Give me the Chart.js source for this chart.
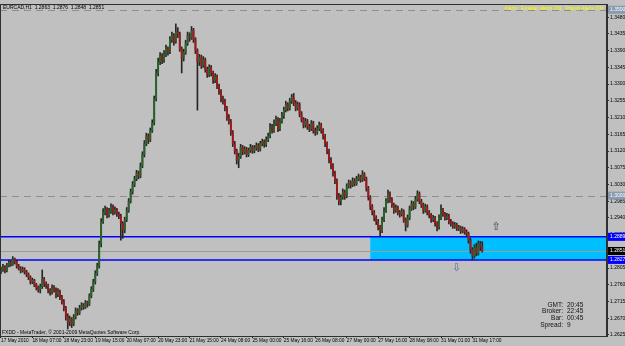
<!DOCTYPE html>
<html>
<head>
<meta charset="utf-8">
<script src="https://cdn.jsdelivr.net/npm/chart.js@4.4.1/dist/chart.umd.min.js"></script>
<style>
html, body { margin: 0; padding: 0; background: #c0c0c0; }
#wrap { width: 625px; height: 346px; }
</style>
</head>
<body>
<div id="wrap"><canvas id="graficEurCad" width="625" height="346"></canvas></div>
<script>
// EURCAD H1, 17 May 2010 15:00 -> 31 May 2010 22:00
const opens = [
  1.2795,1.2800,1.2808,1.2798,1.2812,1.2820,1.2815,1.2828,1.2822,1.2810,1.2805,1.2798,1.2802,1.2795,1.2788,
  1.2780,1.2768,1.2772,1.2760,1.2752,1.2748,1.2755,1.2775,1.2762,1.2758,1.2745,1.2740,1.2752,1.2748,1.2735,
  1.2742,1.2728,1.2715,1.2698,1.2675,1.2660,1.2668,1.2655,1.2672,1.2690,1.2685,1.2698,1.2705,1.2700,1.2712,
  1.2708,1.2730,1.2748,1.2768,1.2790,1.2810,1.2870,1.2930,1.2955,1.2962,1.2948,1.2958,1.2970,1.2955,1.2962,
  1.2950,1.2945,1.2925,1.2908,1.2935,1.2960,1.2985,1.3010,1.3030,1.3045,1.3060,1.3052,1.3080,1.3110,1.3140,
  1.3160,1.3150,1.3175,1.3195,1.3260,1.3330,1.3360,1.3375,1.3365,1.3380,1.3395,1.3388,1.3420,1.3430,1.3415,
  1.3440,1.3435,1.3395,1.3370,1.3385,1.3410,1.3430,1.3425,1.3445,1.3420,1.3390,1.3360,1.3372,1.3350,1.3365,
  1.3340,1.3325,1.3345,1.3330,1.3310,1.3320,1.3295,1.3280,1.3260,1.3255,1.3235,1.3210,1.3200,1.3170,1.3140,
  1.3120,1.3095,1.3105,1.3130,1.3118,1.3125,1.3110,1.3122,1.3130,1.3120,1.3128,1.3135,1.3125,1.3140,1.3145,
  1.3138,1.3150,1.3160,1.3185,1.3175,1.3195,1.3205,1.3180,1.3200,1.3215,1.3230,1.3245,1.3235,1.3255,1.3265,
  1.3250,1.3235,1.3245,1.3220,1.3205,1.3190,1.3200,1.3185,1.3180,1.3195,1.3175,1.3170,1.3180,1.3190,1.3175,
  1.3160,1.3140,1.3120,1.3095,1.3080,1.3060,1.3040,1.3000,1.2985,1.2995,1.3010,1.2998,1.3025,1.3035,1.3028,
  1.3040,1.3032,1.3045,1.3050,1.3042,1.3058,1.3045,1.3020,1.2995,1.2970,1.2955,1.2940,1.2930,1.2915,1.2905,
  1.2935,1.2960,1.2985,1.3005,1.2990,1.2975,1.2960,1.2968,1.2955,1.2950,1.2958,1.2935,1.2920,1.2940,1.2965,
  1.2978,1.2970,1.2990,1.3005,1.2985,1.2975,1.2960,1.2970,1.2955,1.2948,1.2935,1.2940,1.2925,1.2915,1.2940,
  1.2960,1.2950,1.2940,1.2945,1.2930,1.2925,1.2918,1.2922,1.2912,1.2915,1.2905,1.2910,1.2902,1.2898,1.2880,
  1.2855,1.2838,1.2860,1.2845,1.2870,1.2863
];
const highs = [
  1.2808,1.2815,1.2812,1.2818,1.2826,1.2825,1.2836,1.2832,1.2826,1.2815,1.2809,1.2808,1.2806,1.2799,1.2792,
  1.2784,1.2778,1.2775,1.2764,1.2757,1.2762,1.2800,1.2780,1.2768,1.2762,1.2750,1.2760,1.2758,1.2752,1.2750,
  1.2746,1.2732,1.2720,1.2702,1.2682,1.2676,1.2672,1.2680,1.2698,1.2696,1.2705,1.2712,1.2710,1.2718,1.2716,
  1.2736,1.2755,1.2775,1.2798,1.2818,1.2878,1.2938,1.2965,1.2972,1.2968,1.2966,1.2978,1.2975,1.2970,1.2966,
  1.2956,1.2950,1.2930,1.2942,1.2968,1.2992,1.3018,1.3038,1.3052,1.3068,1.3066,1.3088,1.3118,1.3148,1.3168,
  1.3166,1.3182,1.3204,1.3268,1.3340,1.3370,1.3385,1.3382,1.3390,1.3405,1.3400,1.3428,1.3440,1.3436,1.3462,
  1.3452,1.3440,1.3400,1.3394,1.3418,1.3440,1.3438,1.3455,1.3450,1.3425,1.3395,1.3380,1.3378,1.3374,1.3370,
  1.3346,1.3352,1.3350,1.3335,1.3328,1.3325,1.3300,1.3285,1.3268,1.3260,1.3240,1.3218,1.3205,1.3175,1.3146,
  1.3125,1.3114,1.3138,1.3135,1.3132,1.3130,1.3128,1.3138,1.3135,1.3135,1.3142,1.3140,1.3146,1.3152,1.3150,
  1.3158,1.3168,1.3194,1.3192,1.3204,1.3214,1.3210,1.3208,1.3224,1.3238,1.3254,1.3250,1.3262,1.3272,1.3275,
  1.3256,1.3252,1.3250,1.3226,1.3210,1.3208,1.3205,1.3192,1.3202,1.3200,1.3182,1.3188,1.3198,1.3195,1.3180,
  1.3165,1.3145,1.3125,1.3102,1.3086,1.3066,1.3045,1.3006,1.3002,1.3018,1.3015,1.3032,1.3042,1.3040,1.3048,
  1.3046,1.3052,1.3058,1.3055,1.3067,1.3062,1.3050,1.3025,1.3000,1.2976,1.2960,1.2946,1.2936,1.2920,1.2942,
  1.2968,1.2992,1.3015,1.3010,1.2995,1.2980,1.2975,1.2972,1.2960,1.2965,1.2962,1.2940,1.2948,1.2972,1.2986,
  1.2984,1.2998,1.3013,1.3010,1.2990,1.2980,1.2977,1.2975,1.2960,1.2952,1.2947,1.2944,1.2930,1.2948,1.2975,
  1.2966,1.2955,1.2952,1.2950,1.2936,1.2930,1.2928,1.2926,1.2920,1.2918,1.2916,1.2914,1.2908,1.2902,1.2885,
  1.2860,1.2868,1.2872,1.2878,1.2877,1.2876
];
const lows = [
  1.2790,1.2796,1.2792,1.2795,1.2808,1.2810,1.2812,1.2816,1.2805,1.2800,1.2792,1.2794,1.2789,1.2782,1.2774,
  1.2762,1.2763,1.2755,1.2746,1.2740,1.2738,1.2750,1.2755,1.2750,1.2738,1.2732,1.2735,1.2740,1.2725,1.2728,
  1.2720,1.2708,1.2690,1.2665,1.2641,1.2650,1.2645,1.2650,1.2668,1.2678,1.2680,1.2692,1.2694,1.2696,1.2700,
  1.2704,1.2725,1.2742,1.2762,1.2785,1.2805,1.2862,1.2925,1.2948,1.2940,1.2942,1.2952,1.2948,1.2950,1.2944,
  1.2938,1.2880,1.2885,1.2900,1.2930,1.2955,1.2980,1.3004,1.3024,1.3040,1.3045,1.3048,1.3075,1.3104,1.3134,
  1.3140,1.3145,1.3170,1.3190,1.3255,1.3322,1.3352,1.3355,1.3358,1.3374,1.3378,1.3382,1.3412,1.3405,1.3410,
  1.3425,1.3388,1.3330,1.3362,1.3380,1.3404,1.3415,1.3420,1.3412,1.3382,1.3230,1.3350,1.3342,1.3345,1.3332,
  1.3318,1.3320,1.3322,1.3302,1.3304,1.3288,1.3272,1.3252,1.3246,1.3228,1.3202,1.3192,1.3162,1.3132,1.3112,
  1.3085,1.3075,1.3100,1.3110,1.3112,1.3104,1.3105,1.3116,1.3114,1.3115,1.3122,1.3118,1.3120,1.3134,1.3130,
  1.3132,1.3145,1.3155,1.3168,1.3170,1.3188,1.3172,1.3175,1.3195,1.3208,1.3225,1.3228,1.3230,1.3248,1.3242,
  1.3228,1.3230,1.3212,1.3198,1.3182,1.3184,1.3178,1.3172,1.3175,1.3168,1.3162,1.3165,1.3175,1.3168,1.3152,
  1.3132,1.3112,1.3088,1.3072,1.3052,1.3032,1.2990,1.2975,1.2975,1.2990,1.2990,1.2994,1.3020,1.3020,1.3024,
  1.3026,1.3028,1.3040,1.3036,1.3038,1.3040,1.3012,1.2988,1.2962,1.2948,1.2932,1.2922,1.2908,1.2890,1.2900,
  1.2930,1.2955,1.2980,1.2982,1.2968,1.2952,1.2955,1.2948,1.2942,1.2945,1.2928,1.2905,1.2915,1.2935,1.2960,
  1.2962,1.2965,1.2985,1.2978,1.2968,1.2952,1.2955,1.2948,1.2940,1.2928,1.2930,1.2918,1.2905,1.2910,1.2935,
  1.2944,1.2934,1.2935,1.2924,1.2918,1.2912,1.2912,1.2906,1.2906,1.2898,1.2900,1.2896,1.2890,1.2872,1.2845,
  1.2827,1.2832,1.2838,1.2840,1.2852,1.2848
];
const closes = [
  1.2800,1.2808,1.2798,1.2812,1.2820,1.2815,1.2828,1.2822,1.2810,1.2805,1.2798,1.2802,1.2795,1.2788,1.2780,
  1.2768,1.2772,1.2760,1.2752,1.2748,1.2755,1.2775,1.2762,1.2758,1.2745,1.2740,1.2752,1.2748,1.2735,1.2742,
  1.2728,1.2715,1.2698,1.2675,1.2660,1.2668,1.2655,1.2672,1.2690,1.2685,1.2698,1.2705,1.2700,1.2712,1.2708,
  1.2730,1.2748,1.2768,1.2790,1.2810,1.2870,1.2930,1.2955,1.2962,1.2948,1.2958,1.2970,1.2955,1.2962,1.2950,
  1.2945,1.2925,1.2908,1.2935,1.2960,1.2985,1.3010,1.3030,1.3045,1.3060,1.3052,1.3080,1.3110,1.3140,1.3160,
  1.3150,1.3175,1.3195,1.3260,1.3330,1.3360,1.3375,1.3365,1.3380,1.3395,1.3388,1.3420,1.3430,1.3415,1.3440,
  1.3435,1.3395,1.3370,1.3385,1.3410,1.3430,1.3425,1.3445,1.3420,1.3390,1.3360,1.3372,1.3350,1.3365,1.3340,
  1.3325,1.3345,1.3330,1.3310,1.3320,1.3295,1.3280,1.3260,1.3255,1.3235,1.3210,1.3200,1.3170,1.3140,1.3120,
  1.3095,1.3105,1.3130,1.3118,1.3125,1.3110,1.3122,1.3130,1.3120,1.3128,1.3135,1.3125,1.3140,1.3145,1.3138,
  1.3150,1.3160,1.3185,1.3175,1.3195,1.3205,1.3180,1.3200,1.3215,1.3230,1.3245,1.3235,1.3255,1.3265,1.3250,
  1.3235,1.3245,1.3220,1.3205,1.3190,1.3200,1.3185,1.3180,1.3195,1.3175,1.3170,1.3180,1.3190,1.3175,1.3160,
  1.3140,1.3120,1.3095,1.3080,1.3060,1.3040,1.3000,1.2985,1.2995,1.3010,1.2998,1.3025,1.3035,1.3028,1.3040,
  1.3032,1.3045,1.3050,1.3042,1.3058,1.3045,1.3020,1.2995,1.2970,1.2955,1.2940,1.2930,1.2915,1.2905,1.2935,
  1.2960,1.2985,1.3005,1.2990,1.2975,1.2960,1.2968,1.2955,1.2950,1.2958,1.2935,1.2920,1.2940,1.2965,1.2978,
  1.2970,1.2990,1.3005,1.2985,1.2975,1.2960,1.2970,1.2955,1.2948,1.2935,1.2940,1.2925,1.2915,1.2940,1.2960,
  1.2950,1.2940,1.2945,1.2930,1.2925,1.2918,1.2922,1.2912,1.2915,1.2905,1.2910,1.2902,1.2898,1.2880,1.2855,
  1.2838,1.2860,1.2845,1.2870,1.2863,1.2851
];

// one label every 16 bars
const timeLabels = ['17 May 2010', '18 May 07:00', '18 May 23:00', '19 May 15:00', '20 May 07:00',
  '20 May 23:00', '21 May 15:00', '24 May 08:00', '25 May 00:00', '25 May 16:00', '26 May 08:00',
  '27 May 00:00', '27 May 16:00', '28 May 08:00', '31 May 01:00', '31 May 17:00'];
const yTicks = [1.2625, 1.2670, 1.2715, 1.2760, 1.2805, 1.2850, 1.2895, 1.2940, 1.2985, 1.3030,
  1.3075, 1.3120, 1.3165, 1.3210, 1.3255, 1.3300, 1.3345, 1.3390, 1.3435, 1.3480];

const roundLevels = [1.3500, 1.3000];
const zoneTop = 1.2889;
const zoneBottom = 1.2827;
const zoneStartBar = 188;
const bidPrice = 1.2851;
const markerBars = [252, 232];
const markerPrices = [1.2914, 1.2804];
const totalSlots = 309;   // bars + chart shift on the right

const etiquetes = [];
for (let i = 0; i < totalSlots; i++) etiquetes.push(String(i));

const FONT = "'Liberation Sans', Arial, sans-serif";

const decoracio = {
    id: 'decoracio',
    beforeDraw(chart) {
        const c = chart.ctx;
        c.save();
        c.fillStyle = '#c0c0c0';
        c.fillRect(0, 0, chart.width, chart.height);
        c.restore();
    },
    beforeDatasetsDraw(chart) {
        const c = chart.ctx;
        const a = chart.chartArea;
        const x = chart.scales.x;
        const y = chart.scales.y;
        c.save();
        c.beginPath();
        c.rect(a.left, a.top, a.right - a.left, a.bottom - a.top);
        c.clip();

        // zona
        const zx = x.getPixelForValue(zoneStartBar);
        const zy1 = y.getPixelForValue(zoneTop);
        const zy2 = y.getPixelForValue(zoneBottom);
        c.fillStyle = '#00bfff';
        c.fillRect(zx, zy1, a.right - zx, zy2 - zy1);

        // nivells rodons
        c.strokeStyle = '#8e8e8e';
        c.lineWidth = 1;
        c.setLineDash([7, 5]);
        roundLevels.forEach(v => {
            const py = Math.round(y.getPixelForValue(v)) + 0.5;
            c.beginPath(); c.moveTo(a.left, py); c.lineTo(a.right, py); c.stroke();
        });
        c.setLineDash([]);

        // bid
        c.strokeStyle = '#9c9c9c';
        const by = Math.round(y.getPixelForValue(bidPrice)) + 0.5;
        c.beginPath(); c.moveTo(a.left, by); c.lineTo(a.right, by); c.stroke();

        // linies blaves
        c.strokeStyle = '#0000ff';
        c.lineWidth = 1.5;
        [zoneTop, zoneBottom].forEach(v => {
            const py = y.getPixelForValue(v);
            c.beginPath(); c.moveTo(a.left, py); c.lineTo(a.right, py); c.stroke();
        });
        c.restore();
    },
    afterDraw(chart) {
        const c = chart.ctx;
        const a = chart.chartArea;
        const x = chart.scales.x;
        const y = chart.scales.y;
        c.save();

        // marc
        c.strokeStyle = '#303030';
        c.lineWidth = 1;
        c.strokeRect(a.left + 0.5, a.top + 0.5, a.right - a.left - 1, a.bottom - a.top);

        // textos
        c.textBaseline = 'middle';
        c.font = '5px ' + FONT;
        c.fillStyle = '#000';
        c.textAlign = 'left';
        c.fillText('EURCAD,H1  1.2863  1.2876  1.2848  1.2851', 3, a.top + 4);
        c.fillText('FXDD - MetaTrader, \u00a9 2001-2009 MetaQuotes Software Corp.', 2, a.bottom - 3);
        c.fillStyle = '#ffff00';
        c.textAlign = 'right';
        c.fillText('Alerts:  Emailer Alerts ON,  Popup Alerts ON', 603, a.top + 5);

        // panell info
        c.font = '6.5px ' + FONT;
        c.fillStyle = '#111';
        const files = [['GMT:', '20:45'], ['Broker:', '22:45'], ['Bar:', '00:45'], ['Spread:', '9']];
        files.forEach((f, i) => {
            const py = 305 + i * 6.6;
            c.textAlign = 'right';
            c.fillText(f[0], 563, py);
            c.textAlign = 'left';
            c.fillText(f[1], 567, py);
        });

        // fletxes
        c.font = '11px DejaVu Sans';
        c.textAlign = 'center';
        c.fillStyle = '#404040';
        c.fillText('\u21e7', x.getPixelForValue(markerBars[0]), y.getPixelForValue(markerPrices[0]));
        c.fillStyle = '#5a6ea0';
        c.fillText('\u21e9', x.getPixelForValue(markerBars[1]), y.getPixelForValue(markerPrices[1]));

        // etiquetes de preu
        const etiq = [
            [roundLevels[0], '#8a9bb0', '#ffffff'],
            [roundLevels[1], '#8a9bb0', '#ffffff'],
            [zoneTop, '#0000ff', '#ffffff'],
            [bidPrice, '#000000', '#ffffff'],
            [zoneBottom, '#0000ff', '#ffffff']
        ];
        c.font = '5px ' + FONT;
        c.textAlign = 'left';
        etiq.forEach(e => {
            const py = y.getPixelForValue(e[0]);
            c.fillStyle = e[1];
            c.fillRect(a.right + 1, py - 4, 17, 8);
            c.fillStyle = e[2];
            c.fillText(e[0].toFixed(4), a.right + 3, py);
        });
        c.restore();
    }
};

const ctx = document.getElementById('graficEurCad').getContext('2d');
const colorsCos = opens.map((o, i) => closes[i] >= o ? '#2a632a' : '#a01818');

new Chart(ctx, {
    type: 'bar',
    data: {
        labels: etiquetes,
        datasets: [
            {
                label: 'cos',
                data: opens.map((o, i) => [o, closes[i]]),
                backgroundColor: colorsCos,
                barThickness: 1.2,
                grouped: false,
                borderWidth: 0,
                order: 1
            },
            {
                label: 'ombra',
                data: lows.map((l, i) => [l, highs[i]]),
                backgroundColor: '#262626',
                barThickness: 1,
                grouped: false,
                borderWidth: 0,
                order: 2
            }
        ]
    },
    options: {
        responsive: false,
        animation: false,
        devicePixelRatio: 1,
        layout: { padding: { top: 2, left: 0, right: 0, bottom: 0 } },
        plugins: {
            legend: { display: false },
            tooltip: { enabled: false }
        },
        scales: {
            x: {
                type: 'category',
                offset: true,
                afterFit: s => { s.height = 10; },
                grid: {
                    drawOnChartArea: false,
                    offset: false,
                    tickLength: 2,
                    color: c => (c.index % 16 === 0 && c.index / 16 < timeLabels.length) ? '#202020' : 'rgba(0,0,0,0)'
                },
                border: { display: true, color: '#303030' },
                ticks: {
                    autoSkip: false,
                    maxRotation: 0,
                    minRotation: 0,
                    align: 'start',
                    padding: 0,
                    color: '#000',
                    font: { family: FONT, size: 4.8 },
                    callback: (v, i) => (i % 16 === 0 && i / 16 < timeLabels.length) ? timeLabels[i / 16] : ''
                }
            },
            y: {
                position: 'right',
                min: 1.26223,
                max: 1.35155,
                afterBuildTicks: s => { s.ticks = yTicks.map(v => ({ value: v })); },
                afterFit: s => { s.width = 18; },
                grid: { drawOnChartArea: false, tickLength: 2, color: '#303030' },
                border: { display: true, color: '#303030' },
                ticks: {
                    padding: 1,
                    color: '#000',
                    font: { family: FONT, size: 5 },
                    callback: v => v.toFixed(4)
                }
            }
        }
    },
    plugins: [decoracio]
});
</script>
</body>
</html>
